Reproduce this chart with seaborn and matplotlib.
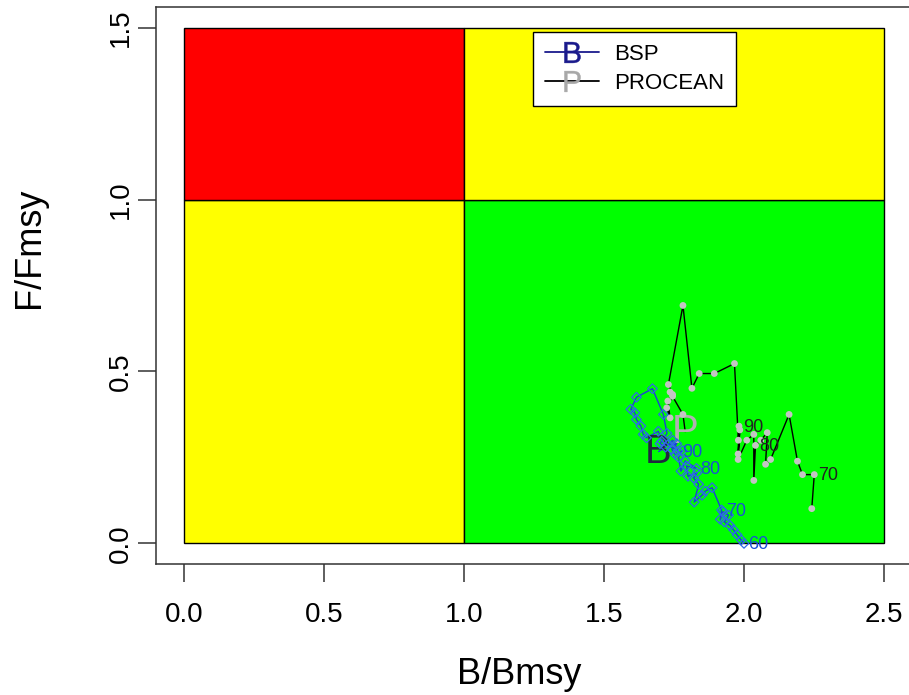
import numpy as np
import pandas as pd
import matplotlib
matplotlib.use('Agg')
import matplotlib.pyplot as plt
from matplotlib.patches import Rectangle
from matplotlib.lines import Line2D
import seaborn as sns

sns.set_theme(style='white')
plt.rcParams['font.family'] = ['Liberation Sans', 'DejaVu Sans']
plt.rcParams['text.color'] = 'black'
plt.rcParams['xtick.color'] = 'black'
plt.rcParams['ytick.color'] = 'black'
plt.rcParams['axes.labelcolor'] = 'black'
plt.rcParams['mathtext.fontset'] = 'custom'
plt.rcParams['mathtext.sf'] = 'Liberation Sans'

# BSP trajectory (B/Bmsy, F/Fmsy), starting 1960
bsp_b = [2.000, 1.990, 1.975, 1.962, 1.950, 1.930, 1.945, 1.925, 1.915, 1.920,
         1.886, 1.862, 1.850, 1.822, 1.838, 1.820, 1.832, 1.800, 1.795, 1.830,
         1.790, 1.775, 1.766, 1.780, 1.754, 1.742, 1.760, 1.730, 1.745, 1.765,
         1.706, 1.694, 1.652, 1.640, 1.632, 1.616, 1.610, 1.596, 1.616, 1.673,
         1.712, 1.725, 1.700, 1.720, 1.695]
bsp_f = [0.000, 0.010, 0.025, 0.040, 0.052, 0.062, 0.082, 0.092, 0.070, 0.097,
         0.162, 0.152, 0.140, 0.120, 0.172, 0.190, 0.205, 0.195, 0.225, 0.218,
         0.240, 0.210, 0.250, 0.270, 0.259, 0.273, 0.290, 0.288, 0.300, 0.268,
         0.297, 0.326, 0.307, 0.317, 0.341, 0.360, 0.380, 0.390, 0.425, 0.450,
         0.375, 0.320, 0.290, 0.280, 0.267]
bsp_labels = ['60', '70', '80', '90']
bsp_label_idx = [0, 9, 19, 29]

# PROCEAN trajectory
procean_b = [2.242, 2.251, 2.209, 2.191, 2.161, 2.095, 2.077, 2.083, 2.060, 2.041,
             2.035, 2.035, 2.010, 1.979, 1.985, 1.979, 1.982, 1.980, 1.966, 1.894,
             1.840, 1.814, 1.782, 1.730, 1.745, 1.728, 1.736, 1.724, 1.745, 1.736,
             1.782, 1.790]
procean_f = [0.101, 0.200, 0.200, 0.239, 0.375, 0.244, 0.230, 0.322, 0.300, 0.285,
             0.183, 0.317, 0.300, 0.244, 0.330, 0.260, 0.341, 0.300, 0.523, 0.494,
             0.494, 0.451, 0.692, 0.462, 0.433, 0.414, 0.365, 0.394, 0.428, 0.440,
             0.375, 0.325]
procean_labels = ['70', '80', '90']
procean_label_idx = [1, 9, 16]

# Kobe quadrants
b_edges = [0.0, 1.0, 2.5]
f_edges = [0.0, 1.0, 1.5]
quad_colors = [['#ffff00', '#00ff00'],
               ['#ff0000', '#ffff00']]

xticks = [0.0, 0.5, 1.0, 1.5, 2.0, 2.5]
yticks = [0.0, 0.5, 1.0, 1.5]

bsp = pd.DataFrame({'B': bsp_b, 'F': bsp_f})
procean = pd.DataFrame({'B': procean_b, 'F': procean_f})

fig = plt.figure(figsize=(9.09, 6.95), dpi=100)
ax = fig.add_axes([156 / 909, 1 - 564 / 695, 756 / 909, 557 / 695])

for i in range(2):
    for j in range(2):
        ax.add_patch(Rectangle((b_edges[j], f_edges[i]),
                               b_edges[j + 1] - b_edges[j], f_edges[i + 1] - f_edges[i],
                               facecolor=quad_colors[i][j], edgecolor='black', lw=1, zorder=1))

# PROCEAN: black line, grey points
sns.lineplot(data=procean, x='B', y='F', sort=False, estimator=None, color='black',
             lw=1, ax=ax, zorder=3)
sns.scatterplot(data=procean.iloc[:-1], x='B', y='F', color='#c4c4c4', s=24,
                edgecolor='none', ax=ax, zorder=4)

# BSP: blue line, open diamonds
sns.lineplot(data=bsp, x='B', y='F', sort=False, estimator=None, color='#1a3fd8',
             lw=1, ax=ax, zorder=3)
sns.scatterplot(data=bsp.iloc[:-1], x='B', y='F', marker='D', s=24, color='#2d6be6',
                facecolors='none', edgecolor='#2d6be6', linewidth=0.9, ax=ax, zorder=4)

for lab, k in zip(procean_labels, procean_label_idx):
    ax.annotate(lab, (procean_b[k], procean_f[k]), xytext=(3, -1), textcoords='offset points',
                ha='left', va='center', fontsize=13, color='#222222', zorder=5)
for lab, k in zip(bsp_labels, bsp_label_idx):
    ax.annotate(lab, (bsp_b[k], bsp_f[k]), xytext=(3, -1), textcoords='offset points',
                ha='left', va='center', fontsize=13, color='#1a4fd8', zorder=5)

# final-year points marked with letters
ax.text(bsp_b[-1], bsp_f[-1], 'B', ha='center', va='center', fontsize=29,
        color='#202840', zorder=3.5)
ax.text(procean_b[-1], procean_f[-1], 'P', ha='center', va='center', fontsize=29,
        color='#b0b0b0', zorder=3.5)

ax.set_xlim(-0.1, 2.6)
ax.set_ylim(-0.06, 1.56)
ax.set_xticks(xticks)
ax.set_xticklabels([f'{v:.1f}' for v in xticks], fontsize=20)
ax.set_yticks(yticks)
ax.set_yticklabels([f'{v:.1f}' for v in yticks], fontsize=20, rotation=90, va='center')
ax.tick_params(axis='both', direction='out', length=13, width=1.1, color='#333333',
               labelcolor='black')
ax.tick_params(axis='x', pad=14, bottom=True)
ax.tick_params(axis='y', pad=3, left=True)
for s in ax.spines.values():
    s.set_color('#333333')
    s.set_linewidth(1.1)
ax.spines['right'].set_visible(False)
ax.grid(False)

ax.set_xlabel('B/Bmsy', fontsize=26, color='black')
ax.set_ylabel('F/Fmsy', fontsize=26, color='black')
ax.xaxis.label.set_va('center')
ax.yaxis.label.set_va('center')
ax.xaxis.set_label_coords(0.48, -0.199)
ax.yaxis.set_label_coords(-0.167, 0.567)

handles = [Line2D([], [], color='#1a1a8c', lw=1.3, marker=r'$\mathsf{B}$', markersize=15,
                  markeredgewidth=0.3),
           Line2D([], [], color='black', lw=1.3, marker=r'$\mathsf{P}$', markersize=15,
                  markerfacecolor='#a8a8a8', markeredgecolor='#a8a8a8', markeredgewidth=0.3)]
leg = ax.legend(handles, ['BSP', 'PROCEAN'], loc='upper left',
                bbox_to_anchor=(533 / 909, 1 - 32 / 695), bbox_transform=fig.transFigure,
                fontsize=16, frameon=True, fancybox=False, framealpha=1, borderaxespad=0,
                handlelength=2.4, handletextpad=0.7, labelspacing=0.35, borderpad=0.55)
leg.get_frame().set_edgecolor('black')
leg.get_frame().set_linewidth(1.0)
for t in leg.get_texts():
    t.set_color('black')

fig.savefig('out.png', dpi=100)
plt.close()
